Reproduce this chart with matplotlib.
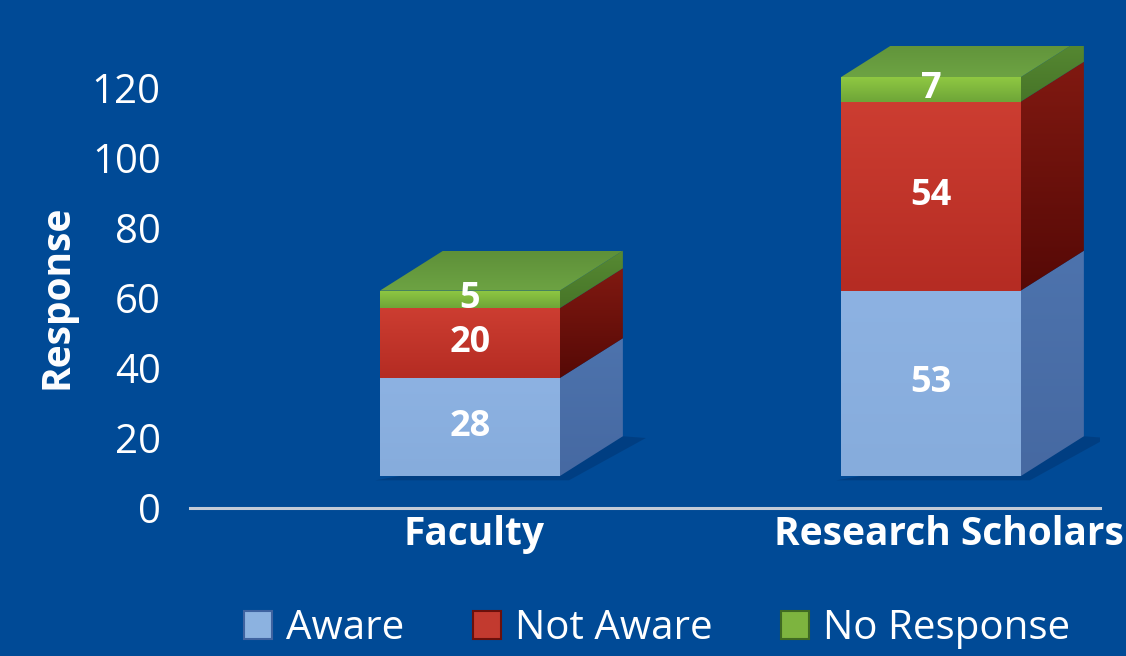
import numpy as np
import matplotlib.pyplot as plt
from matplotlib.patches import Polygon, Patch
from matplotlib.colors import LinearSegmentedColormap

plt.rcParams['font.family'] = ['Open Sans', 'DejaVu Sans']

# data
categories = ['Faculty', 'Research Scholars']
series = ['Aware', 'Not Aware', 'No Response']
aware = [28, 53]
not_aware = [20, 54]
no_response = [5, 7]

bg = '#004a96'
# (top, bottom) colours for front and side faces
front_col = [('#8db2e2', '#86acdc'), ('#cc3d31', '#b52c23'), ('#8fc842', '#6ea538')]
side_col = [('#4d73ad', '#4669a2'), ('#801911', '#560906'), ('#578a33', '#477528')]
top_col = ('#5e9039', '#6da343')
legend_col = ['#8cb2e0', '#c23a2f', '#7db43f']
legend_edge = ['#3f63a0', '#6b100b', '#3f6a22']

fig = plt.figure(figsize=(11.26, 6.56), dpi=100, facecolor=bg)
ax = fig.add_axes([190/1126, (656-508)/656, 910/1126, 462/656])
ax.set_facecolor(bg)
xlim = (-0.607, 1.367)
ylim = (0, 132)


def grad_fill(ax, verts, c1, c2):
    # vertical gradient clipped to a polygon, c1 at top
    poly = Polygon(verts, closed=True, facecolor='none', edgecolor='none')
    ax.add_patch(poly)
    xs = [v[0] for v in verts]
    ys = [v[1] for v in verts]
    cmap = LinearSegmentedColormap.from_list('g', [c2, c1])
    im = ax.imshow(np.linspace(0, 1, 64).reshape(-1, 1), cmap=cmap, origin='lower',
                   extent=(min(xs), max(xs), min(ys), max(ys)), aspect='auto',
                   interpolation='bilinear', zorder=2)
    im.set_clip_path(poly)


base = 9.1        # floor of the 3d boxes
w = 0.39          # front face width
dx, dy = 0.137, 11.4   # depth offset

for i, cat in enumerate(categories):
    x = i
    # floor shadow
    ax.add_patch(Polygon([(x - w/2 - 0.01, base - 1.2), (x + w/2 + 0.02, base - 1.2),
                          (x + w/2 + dx + 0.05, base + dy - 0.5), (x + w/2 + dx, base + dy)],
                         closed=True, facecolor='#003a7a', edgecolor='none', alpha=0.7,
                         zorder=1))
    bottom = base
    for k, vals in enumerate([aware, not_aware, no_response]):
        v = vals[i]
        grad_fill(ax, [(x + w/2, bottom), (x + w/2 + dx, bottom + dy),
                       (x + w/2 + dx, bottom + v + dy), (x + w/2, bottom + v)],
                  side_col[k][0], side_col[k][1])
        grad_fill(ax, [(x - w/2, bottom), (x + w/2, bottom),
                       (x + w/2, bottom + v), (x - w/2, bottom + v)],
                  front_col[k][0], front_col[k][1])
        ax.text(x, bottom + v/2, str(v), ha='center', va='center', color='white',
                fontsize=26, fontweight='bold', zorder=5)
        bottom += v
    grad_fill(ax, [(x - w/2, bottom), (x + w/2, bottom), (x + w/2 + dx, bottom + dy),
                   (x - w/2 + dx, bottom + dy)], top_col[0], top_col[1])

ax.set_xlim(*xlim)
ax.set_ylim(*ylim)
ax.set_yticks(range(0, 121, 20))
ax.tick_params(axis='y', length=0, pad=21, labelsize=29, colors='white')
ax.set_xticks([0.01, 1.04])
ax.set_xticklabels(categories, fontsize=28, fontweight='bold', color='white')
ax.tick_params(axis='x', length=0, pad=5)
for s in ['top', 'right', 'left']:
    ax.spines[s].set_visible(False)
ax.spines['bottom'].set_color('#c3cbd8')
ax.spines['bottom'].set_linewidth(2.2)

fig.text(57/1126, 1 - 297/656, 'Response', rotation=90, ha='center', va='center',
         color='white', fontsize=28, fontweight='bold')

handles = [Patch(facecolor=legend_col[k], edgecolor=legend_edge[k], linewidth=1.5)
           for k in range(3)]
fig.legend(handles, series, loc='center', bbox_to_anchor=(657/1126, 1 - 629/656),
           ncol=3, frameon=False, fontsize=29, labelcolor='white',
           handlelength=0.7, handleheight=0.7, handletextpad=0.35, columnspacing=1.7)

fig.savefig('out.png', dpi=100, facecolor=bg)
